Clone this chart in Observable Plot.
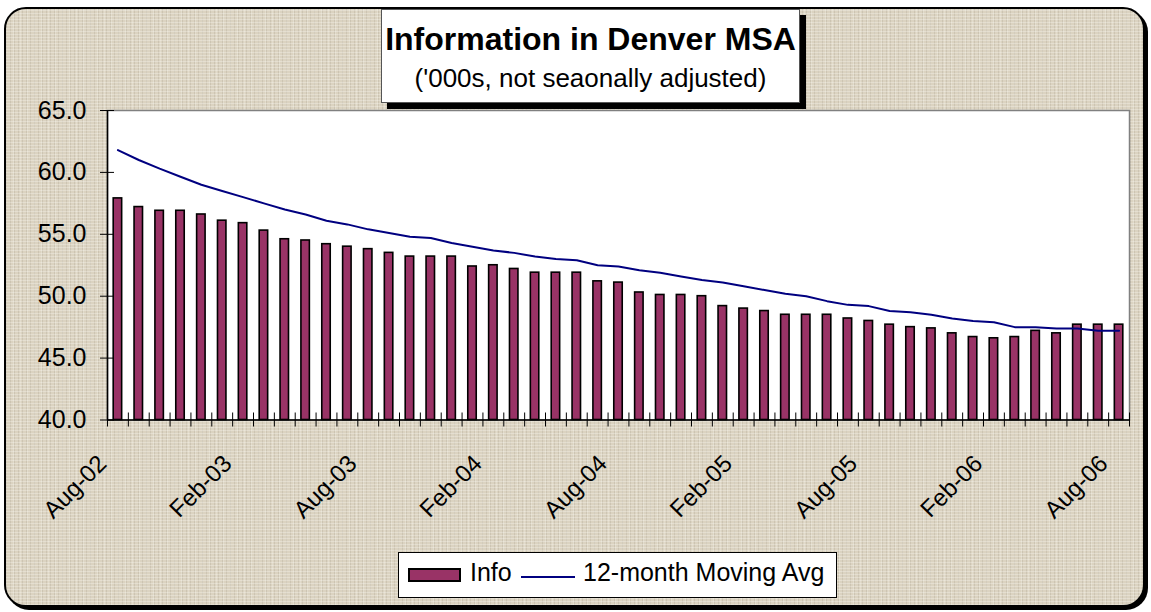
<!DOCTYPE html>
<html>
<head>
<meta charset="utf-8">
<script src="https://cdn.jsdelivr.net/npm/d3@7"></script>
<script src="https://cdn.jsdelivr.net/npm/@observablehq/plot@0.6"></script>
<style>
html, body { margin: 0; padding: 0; background: #fff; }
#wrap { position: relative; width: 1151px; height: 612px; overflow: hidden; font-family: "Liberation Sans", Arial, sans-serif; }
#panel { position: absolute; left: 4px; top: 7px; width: 1141px; height: 600px; box-sizing: border-box;
  border: 2px solid #000; border-radius: 22px; box-shadow: 3px 3px 0 #000;
  background-color: #dbd3c1;
  background-image:
    repeating-linear-gradient(0deg, rgba(255,255,250,0.28) 0 1px, transparent 1px 3px),
    repeating-linear-gradient(90deg, rgba(110,100,80,0.13) 0 1px, transparent 1px 4px),
    repeating-linear-gradient(90deg, rgba(255,255,250,0.2) 0 1px, transparent 1px 7px);
}
#chart { position: absolute; left: 0; top: 0; }
#title { position: absolute; left: 381px; top: 9px; width: 419px; height: 94px; box-sizing: border-box;
  background: #fff; border: 1px solid #555; box-shadow: 6px 6px 0 #000; }
#title .t1 { position: absolute; left: 0; right: 0; top: 13px; text-align: center; font-weight: bold; font-size: 32px; line-height: 32px; color: #000; }
#title .t2 { position: absolute; left: 0; right: 0; top: 55px; text-align: center; font-size: 26px; line-height: 26px; color: #000; }
#legend { position: absolute; left: 398px; top: 552px; width: 439px; height: 46px; box-sizing: border-box;
  background: #fff; border: 1px solid #000; }
#legend .sw { position: absolute; left: 9px; top: 15px; width: 53px; height: 14px; box-sizing: border-box; background: #993366; border: 2px solid #000; }
#legend .l1 { position: absolute; left: 71px; top: 6.5px; font-size: 25px; line-height: 25px; }
#legend .ln { position: absolute; left: 122px; top: 23px; width: 54px; height: 2px; background: #000080; }
#legend .l2 { position: absolute; left: 184px; top: 6.5px; font-size: 25px; line-height: 25px; }
</style>
</head>
<body>
<div id="wrap">
  <div id="panel"></div>
  <div id="chart"></div>
  <div id="title"><div class="t1">Information in Denver MSA</div><div class="t2">('000s, not seaonally adjusted)</div></div>
  <div id="legend"><div class="sw"></div><div class="l1">Info</div><div class="ln"></div><div class="l2">12-month Moving Avg</div></div>
</div>
<script>
// ---- data ----
const months = [
  "Aug-02","Sep-02","Oct-02","Nov-02","Dec-02","Jan-03","Feb-03","Mar-03","Apr-03","May-03","Jun-03","Jul-03",
  "Aug-03","Sep-03","Oct-03","Nov-03","Dec-03","Jan-04","Feb-04","Mar-04","Apr-04","May-04","Jun-04","Jul-04",
  "Aug-04","Sep-04","Oct-04","Nov-04","Dec-04","Jan-05","Feb-05","Mar-05","Apr-05","May-05","Jun-05","Jul-05",
  "Aug-05","Sep-05","Oct-05","Nov-05","Dec-05","Jan-06","Feb-06","Mar-06","Apr-06","May-06","Jun-06","Jul-06",
  "Aug-06"
];
const info = [
  57.9, 57.2, 56.9, 56.9, 56.6, 56.1, 55.9, 55.3, 54.6, 54.5, 54.2, 54.0,
  53.8, 53.5, 53.2, 53.2, 53.2, 52.4, 52.5, 52.2, 51.9, 51.9, 51.9, 51.2,
  51.1, 50.3, 50.1, 50.1, 50.0, 49.2, 49.0, 48.8, 48.5, 48.5, 48.5, 48.2,
  48.0, 47.7, 47.5, 47.4, 47.0, 46.7, 46.6, 46.7, 47.2, 47.0, 47.7, 47.7,
  47.7
];
const movingAvg = [
  61.8, 61.0, 60.3, 59.65, 59.0, 58.5, 58.0, 57.5, 57.0, 56.6, 56.1, 55.8,
  55.4, 55.1, 54.8, 54.7, 54.3, 54.0, 53.7, 53.5, 53.2, 53.0, 52.9, 52.5,
  52.4, 52.1, 51.9, 51.6, 51.3, 51.1, 50.8, 50.5, 50.2, 50.0, 49.6, 49.3,
  49.2, 48.8, 48.7, 48.5, 48.2, 48.0, 47.9, 47.5, 47.5, 47.4, 47.4, 47.2,
  47.2
];
const yTicks = [40, 45, 50, 55, 60, 65];
const shownLabels = ["Aug-02","Feb-03","Aug-03","Feb-04","Aug-04","Feb-05","Aug-05","Feb-06","Aug-06"];

// ---- chart ----
const yMin = yTicks[0], yMax = yTicks[yTicks.length - 1];
const idx = d3.range(months.length);
const bounds = d3.range(months.length + 1);
const labelIdx = idx.filter(i => shownLabels.includes(months[i]));

const chart = Plot.plot({
  width: 1151,
  height: 612,
  marginLeft: 107,
  marginRight: 22,
  marginTop: 110,
  marginBottom: 192.5,
  x: {domain: [0, months.length], axis: null},
  y: {domain: [yMin, yMax], axis: null},
  style: {background: "transparent", fontFamily: "'Liberation Sans', Arial, sans-serif", color: "#000", overflow: "visible"},
  marks: [
    Plot.frame({fill: "#fff", stroke: "#808080", strokeWidth: 1.5}),
    Plot.rectY(idx, {x1: i => i, x2: i => i + 1, y1: () => yMin, y2: i => info[i],
      insetLeft: 6.2, insetRight: 6.2, fill: "#993366", stroke: "#000", strokeWidth: 1.6}),
    Plot.ruleX([0], {stroke: "#000", strokeWidth: 1.5}),
    Plot.ruleY([yMin], {stroke: "#000", strokeWidth: 1.5}),
    Plot.line(idx, {x: i => i + 0.5, y: i => movingAvg[i], stroke: "#000080", strokeWidth: 2}),
    Plot.axisY(yTicks, {tickSize: 14, dx: 7, tickFormat: () => "", label: null, stroke: "#000"}),
    Plot.axisY(yTicks, {tickSize: 0, tickPadding: 21, tickFormat: d => d.toFixed(1), label: null, fontSize: 25, fill: "#000"}),
    Plot.axisX(bounds, {tickSize: 14, dy: -7, tickFormat: () => "", label: null, stroke: "#000"}),
    Plot.text(labelIdx, {x: i => i + 0.5, text: i => months[i], frameAnchor: "bottom",
      rotate: -45, textAnchor: "end", lineAnchor: "bottom", dx: -10, dy: 45, fontSize: 24, fill: "#000"})
  ]
});
document.getElementById("chart").appendChild(chart);
</script>
</body>
</html>
